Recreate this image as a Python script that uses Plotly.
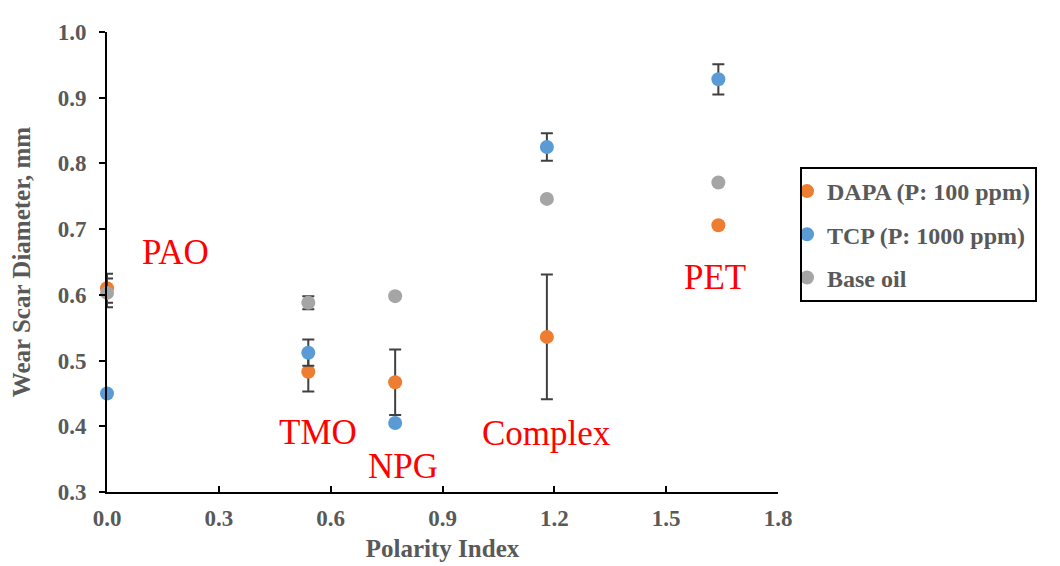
import plotly.graph_objects as go

polarity = [0.0, 0.54, 0.773, 1.18, 1.64]
oil_labels = ["PAO", "TMO", "NPG", "Complex", "PET"]
label_x = [0.185, 0.566, 0.794, 1.18, 1.63]
label_y = [0.664, 0.39, 0.339, 0.389, 0.627]

dapa = [0.610, 0.483, 0.467, 0.536, 0.706]
dapa_err = [0.022, 0.030, 0.050, 0.095, 0.0]
tcp = [0.450, 0.512, 0.405, 0.825, 0.928]
tcp_err = [0.0, 0.020, 0.0, 0.021, 0.023]
base = [0.603, 0.588, 0.598, 0.746, 0.771]
base_err = [0.022, 0.010, 0.0, 0.003, 0.0]

series = [
    ("DAPA (P: 100 ppm)", dapa, dapa_err, "#ED7D31"),
    ("TCP (P: 1000 ppm)", tcp, tcp_err, "#5B9BD5"),
    ("Base oil", base, base_err, "#A5A5A5"),
]

fig = go.Figure()
for i, (name, vals, errs, color) in enumerate(series):
    fig.add_trace(go.Scatter(
        x=polarity, y=vals, mode="markers", name=name, legendgroup=f"g{i}",
        marker=dict(color=color, size=14),
        error_y=dict(type="data", array=errs, visible=True,
                     color="#404040", thickness=2, width=6),
        cliponaxis=False,
    ))

for t, xx, yy in zip(oil_labels, label_x, label_y):
    fig.add_annotation(x=xx, y=yy, text=t, showarrow=False,
                       font=dict(family="Liberation Serif", size=35, color="#FF0000"))

tick_font = dict(family="Liberation Serif", size=23, color="#595959", weight="bold")
title_font = dict(family="Liberation Serif", size=25, color="#595959", weight="bold")

fig.update_layout(
    width=1060, height=566,
    margin=dict(l=99, r=290, t=18, b=82),
    plot_bgcolor="white", paper_bgcolor="white",
    showlegend=True,
    legend=dict(x=1.0328, y=0.7065, xanchor="left", yanchor="top",
                bordercolor="#000000", borderwidth=2, indentation=-15,
                font=dict(family="Liberation Serif", size=24, color="#595959", weight="bold"),
                itemwidth=30, tracegroupgap=9),
    xaxis=dict(range=[0, 1.8], tickvals=[0, 0.3, 0.6, 0.9, 1.2, 1.5, 1.8],
               ticktext=["0.0", "0.3", "0.6", "0.9", "1.2", "1.5", "1.8"],
               showgrid=False, zeroline=False, showline=True, linecolor="black", linewidth=2,
               ticks="inside", ticklen=6, tickwidth=2, tickcolor="black",
               tickfont=tick_font, ticklabelstandoff=4,
               title=dict(text="Polarity Index", font=title_font, standoff=10)),
    yaxis=dict(range=[0.3, 1.0], tickvals=[0.3, 0.4, 0.5, 0.6, 0.7, 0.8, 0.9, 1.0],
               ticktext=["0.3", "0.4", "0.5", "0.6", "0.7", "0.8", "0.9", "1.0"],
               showgrid=False, zeroline=False, showline=True, linecolor="black", linewidth=2,
               ticks="outside", ticklen=6, tickwidth=2, tickcolor="black",
               tickfont=tick_font, ticklabelstandoff=8,
               title=dict(text="Wear Scar Diameter, mm", font=title_font, standoff=20)),
)

fig.write_html("out.html")
